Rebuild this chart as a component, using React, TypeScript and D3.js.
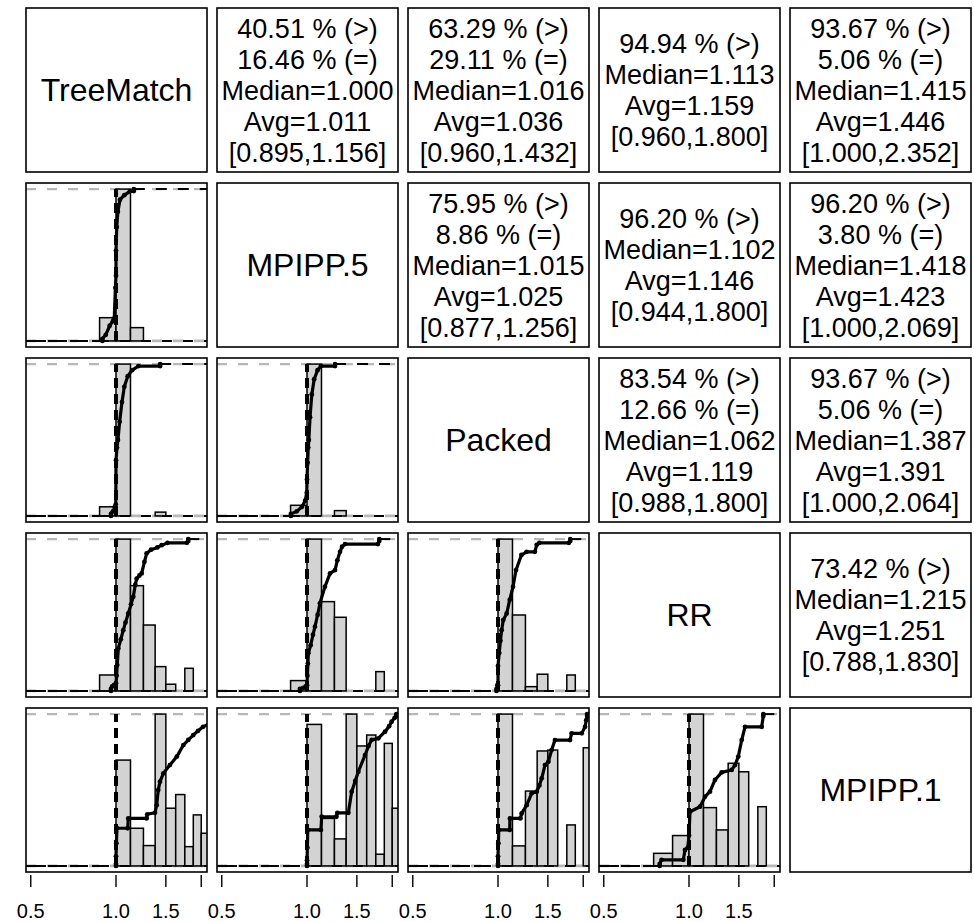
import React from "react";
import * as d3 from "d3";

const NAMES = ["TreeMatch", "MPIPP.5", "Packed", "RR", "MPIPP.1"];

// one entry per pair (i < j): text goes in the upper cell (i, j), the plot in the lower cell (j, i)
const PAIRS = [[0, 1], [0, 2], [0, 3], [0, 4], [1, 2], [1, 3], [1, 4], [2, 3], [2, 4], [3, 4]];
const PCT_GREATER = [40.51, 63.29, 94.94, 93.67, 75.95, 96.2, 96.2, 83.54, 93.67, 73.42];
const PCT_EQUAL = [16.46, 29.11, null, 5.06, 8.86, null, 3.8, 12.66, 5.06, null];
const MEDIANS = [1.0, 1.016, 1.113, 1.415, 1.015, 1.102, 1.418, 1.062, 1.387, 1.215];
const AVGS = [1.011, 1.036, 1.159, 1.446, 1.025, 1.146, 1.423, 1.119, 1.391, 1.251];
const MINS = [0.895, 0.96, 0.96, 1.0, 0.877, 0.944, 1.0, 0.988, 1.0, 0.788];
const MAXS = [1.156, 1.432, 1.8, 2.352, 1.256, 1.8, 2.069, 1.8, 2.064, 1.83];

// histogram: bins of width 0.125 starting at HIST_START, heights relative to the tallest bar
const BIN = 0.125;
const HIST_START = [0.875, 0.875, 0.875, 1.0, 0.875, 0.875, 1.0, 1.0, 1.0, 0.75];
const HIST_HEIGHTS = [
  [0.153, 1.0, 0.0875],
  [0.06, 1.0, 0, 0, 0.025],
  [0.105, 1.0, 0.693, 0.434, 0.16, 0.044, 0, 0.149],
  [0.697, 0.248, 0.134, 1.0, 0.38, 0.47, 0.127, 0.336, 0.215],
  [0.07, 1.0, 0, 0.035],
  [0.068, 1.0, 0.588, 0.485, 0, 0, 0, 0.127],
  [0.932, 0.313, 0.178, 1.0, 0.79, 0.862, 0.077, 0.807, 0.38],
  [1.0, 0.5, 0.028, 0.11, 0, 0, 0.105],
  [1.0, 0.132, 0.493, 0.757, 0.763, 0, 0.27, 0, 0.778],
  [0.083, 0.2, 1.0, 0.384, 0.237, 0.676, 0.62, 0, 0.39],
];

const ECDF = [
  [[0.895, 0], [0.895, 0.013], [0.92, 0.04], [0.95, 0.1], [0.975, 0.13], [0.986, 0.149], [0.995, 0.35], [1.0, 0.43], [1.0, 0.595], [1.006, 0.75], [1.015, 0.85], [1.033, 0.93], [1.07, 0.96], [1.12, 0.985], [1.156, 0.987], [1.156, 1]],
  [[0.96, 0], [0.96, 0.013], [0.975, 0.03], [0.99, 0.06], [0.998, 0.076], [1.0, 0.367], [1.008, 0.45], [1.016, 0.5], [1.03, 0.62], [1.05, 0.75], [1.07, 0.85], [1.1, 0.92], [1.14, 0.96], [1.2, 0.987], [1.432, 0.987], [1.432, 1]],
  [[0.96, 0], [0.96, 0.013], [0.97, 0.03], [0.985, 0.04], [1.0, 0.05], [1.005, 0.1], [1.01, 0.17], [1.019, 0.28], [1.04, 0.34], [1.061, 0.4], [1.08, 0.45], [1.105, 0.51], [1.13, 0.57], [1.151, 0.62], [1.17, 0.7], [1.183, 0.74], [1.21, 0.76], [1.232, 0.774], [1.26, 0.85], [1.283, 0.906], [1.33, 0.93], [1.4, 0.945], [1.45, 0.96], [1.52, 0.975], [1.78, 0.975], [1.8, 0.987], [1.8, 1]],
  [[1.0, 0], [1.0, 0.013], [1.0, 0.063], [1.003, 0.15], [1.008, 0.248], [1.1, 0.248], [1.105, 0.313], [1.283, 0.313], [1.29, 0.34], [1.373, 0.35], [1.392, 0.4], [1.41, 0.5], [1.43, 0.555], [1.47, 0.61], [1.55, 0.664], [1.64, 0.72], [1.73, 0.796], [1.8, 0.83], [1.875, 0.862], [1.95, 0.89], [2.03, 0.916], [2.15, 0.94], [2.352, 1]],
  [[0.877, 0], [0.877, 0.013], [0.92, 0.03], [0.96, 0.06], [0.985, 0.1], [0.998, 0.152], [1.0, 0.24], [1.005, 0.35], [1.01, 0.45], [1.015, 0.5], [1.025, 0.65], [1.04, 0.8], [1.06, 0.9], [1.09, 0.96], [1.12, 0.987], [1.256, 0.987], [1.256, 1]],
  [[0.944, 0], [0.944, 0.013], [0.97, 0.02], [0.99, 0.03], [1.0, 0.038], [1.003, 0.1], [1.007, 0.18], [1.011, 0.248], [1.03, 0.3], [1.05, 0.37], [1.067, 0.423], [1.09, 0.5], [1.111, 0.577], [1.157, 0.686], [1.206, 0.774], [1.256, 0.796], [1.28, 0.86], [1.308, 0.916], [1.33, 0.95], [1.362, 0.967], [1.78, 0.967], [1.8, 0.987], [1.8, 1]],
  [[1.0, 0], [1.0, 0.013], [1.0, 0.038], [1.003, 0.12], [1.006, 0.237], [1.12, 0.237], [1.127, 0.324], [1.27, 0.324], [1.28, 0.35], [1.4, 0.35], [1.438, 0.489], [1.48, 0.56], [1.518, 0.62], [1.603, 0.73], [1.65, 0.79], [1.692, 0.83], [1.786, 0.84], [1.886, 0.884], [1.95, 0.92], [1.99, 0.95], [2.04, 0.975], [2.069, 0.987], [2.069, 1]],
  [[0.988, 0], [0.988, 0.013], [0.995, 0.038], [1.0, 0.038], [1.0, 0.165], [1.01, 0.25], [1.02, 0.33], [1.03, 0.4], [1.044, 0.467], [1.073, 0.51], [1.1, 0.6], [1.13, 0.686], [1.158, 0.796], [1.21, 0.895], [1.262, 0.916], [1.35, 0.916], [1.37, 0.962], [1.4, 0.975], [1.78, 0.975], [1.8, 0.987], [1.8, 1]],
  [[1.0, 0], [1.0, 0.013], [1.0, 0.063], [1.003, 0.15], [1.006, 0.237], [1.1, 0.237], [1.102, 0.313], [1.2, 0.313], [1.212, 0.346], [1.263, 0.4], [1.315, 0.478], [1.37, 0.489], [1.4, 0.53], [1.427, 0.577], [1.465, 0.664], [1.506, 0.686], [1.547, 0.763], [1.589, 0.829], [1.796, 0.829], [1.82, 0.873], [1.976, 0.873], [2.03, 0.916], [2.05, 0.96], [2.064, 0.987], [2.064, 1]],
  [[0.788, 0], [0.788, 0.013], [0.8, 0.04], [0.955, 0.04], [0.968, 0.105], [0.99, 0.12], [1.0, 0.2], [1.008, 0.357], [1.094, 0.39], [1.139, 0.456], [1.186, 0.489], [1.235, 0.566], [1.304, 0.616], [1.415, 0.632], [1.454, 0.664], [1.493, 0.72], [1.535, 0.829], [1.577, 0.916], [1.806, 0.916], [1.83, 0.987], [1.83, 1]],
];

const TICKS = [0.5, 1.0, 1.5, 2.0];
const TICK_LABELS = ["0.5", "1.0", "1.5", ""];

const W = 974;
const H = 922;
const X0 = 26;
const Y0 = 8;
const STEP_X = 191;
const STEP_Y = 175;
const PW = 181;
const PH = 164;
const X_DOMAIN = [0.481, 2.096];
const FONT = "'Liberation Sans', Arial, Helvetica, sans-serif";
const GREY = "#b8b8b8";

const statLines = (k: number) => {
  let lines = [`${PCT_GREATER[k].toFixed(2)} % (>)`];
  if (PCT_EQUAL[k] !== null) lines.push(`${(PCT_EQUAL[k] as number).toFixed(2)} % (=)`);
  lines.push(`Median=${MEDIANS[k].toFixed(3)}`);
  lines.push(`Avg=${AVGS[k].toFixed(3)}`);
  lines.push(`[${MINS[k].toFixed(3)},${MAXS[k].toFixed(3)}]`);
  return lines;
};

const Box = ({ col, row }: { col: number; row: number }) => (
  <rect x={X0 + col * STEP_X} y={Y0 + row * STEP_Y} width={PW} height={PH}
    fill="none" stroke="#000" strokeWidth={1.6} />
);

const UpperPanel = ({ k, col, row }: { k: number; col: number; row: number }) => {
  const lines = statLines(k);
  const cx = X0 + col * STEP_X + PW / 2;
  const cy = Y0 + row * STEP_Y + PH / 2;
  const fs = 27;
  const gap = 31;
  return <g>
    {lines.map((s, i) => (
      <text key={i} x={cx} y={cy + (i - (lines.length - 1) / 2) * gap + 0.358 * fs}
        textAnchor="middle" fontSize={fs} fontFamily={FONT}>{s}</text>
    ))}
    <Box col={col} row={row} />
  </g>;
};

const LowerPanel = ({ k, col, row }: { k: number; col: number; row: number }) => {
  const L = X0 + col * STEP_X;
  const T = Y0 + row * STEP_Y;
  const x = d3.scaleLog().domain(X_DOMAIN).range([L, L + PW]);
  const y = d3.scaleLinear().domain([-0.04, 1.04]).range([T + PH, T]);
  const pts = ECDF[k];
  const line = d3.line<number[]>().x(d => x(d[0])).y(d => y(d[1]));
  const xmin = pts[0][0];
  const xmax = pts[pts.length - 1][0];
  const id = "clip" + k;
  return <g>
    <clipPath id={id}><rect x={L} y={T} width={PW} height={PH} /></clipPath>
    <g clipPath={`url(#${id})`}>
      <line x1={L} x2={L + PW} y1={y(1)} y2={y(1)} stroke={GREY} strokeWidth={2.2} strokeDasharray="10 11" />
      <line x1={L} x2={L + PW} y1={y(0)} y2={y(0)} stroke={GREY} strokeWidth={2.8} strokeDasharray="10 11" />
      {HIST_HEIGHTS[k].map((h, i) => {
        const a = HIST_START[k] + i * BIN;
        return <rect key={i} x={x(a)} width={x(a + BIN) - x(a)} y={y(h)} height={y(0) - y(h)}
          fill="#d3d3d3" stroke="#000" strokeWidth={1.5} />;
      })}
      <line x1={L} x2={L + PW} y1={y(0)} y2={y(0)} stroke="#000" strokeWidth={2}
        strokeDasharray="10 11" strokeDashoffset={-10} />
      <line x1={x(1)} x2={x(1)} y1={y(0)} y2={y(1)} stroke="#000" strokeWidth={4}
        strokeDasharray="10 6" />
      {xmax < X_DOMAIN[1] &&
        <line x1={x(xmax)} x2={L + PW} y1={y(1)} y2={y(1)} stroke="#000" strokeWidth={2}
          strokeDasharray="11 11" />}
      <line x1={L} x2={x(xmin)} y1={y(0)} y2={y(0)} stroke="#000" strokeWidth={2}
        strokeDasharray="11 11" />
      <path d={line(pts) as string} fill="none" stroke="#000" strokeWidth={3.2} strokeLinejoin="round" />
      {pts.map((d, i) => <circle key={i} cx={x(d[0])} cy={y(d[1])} r={2.4} fill="#000" />)}
    </g>
    <Box col={col} row={row} />
  </g>;
};

const BottomAxis = ({ col }: { col: number }) => {
  const L = X0 + col * STEP_X;
  const x = d3.scaleLog().domain(X_DOMAIN).range([L, L + PW]);
  const yTop = Y0 + 4 * STEP_Y + PH;
  return <g>
    {TICKS.map((t, i) => (
      <g key={i}>
        <line x1={x(t)} x2={x(t)} y1={yTop + 3} y2={yTop + 15} stroke="#000" strokeWidth={1.4} />
        {TICK_LABELS[i] && <text x={x(t)} y={918} textAnchor="middle" fontSize={20} fontFamily={FONT}>{TICK_LABELS[i]}</text>}
      </g>
    ))}
  </g>;
};

export default function App() {
  return (
    <svg width={W} height={H} style={{ position: "absolute", left: 0, top: 0, background: "#fff" }}>
      <rect x={0} y={0} width={W} height={H} fill="#fff" />
      {NAMES.map((n, i) => (
        <g key={"d" + i}>
          <text x={X0 + i * STEP_X + PW / 2} y={Y0 + i * STEP_Y + PH / 2 + 0.358 * 32}
            textAnchor="middle" fontSize={32} fontFamily={FONT}>{n}</text>
          <Box col={i} row={i} />
        </g>
      ))}
      {PAIRS.map(([i, j], k) => <UpperPanel key={"u" + k} k={k} row={i} col={j} />)}
      {PAIRS.map(([i, j], k) => <LowerPanel key={"l" + k} k={k} row={j} col={i} />)}
      {[0, 1, 2, 3].map(c => <BottomAxis key={c} col={c} />)}
    </svg>
  );
}
